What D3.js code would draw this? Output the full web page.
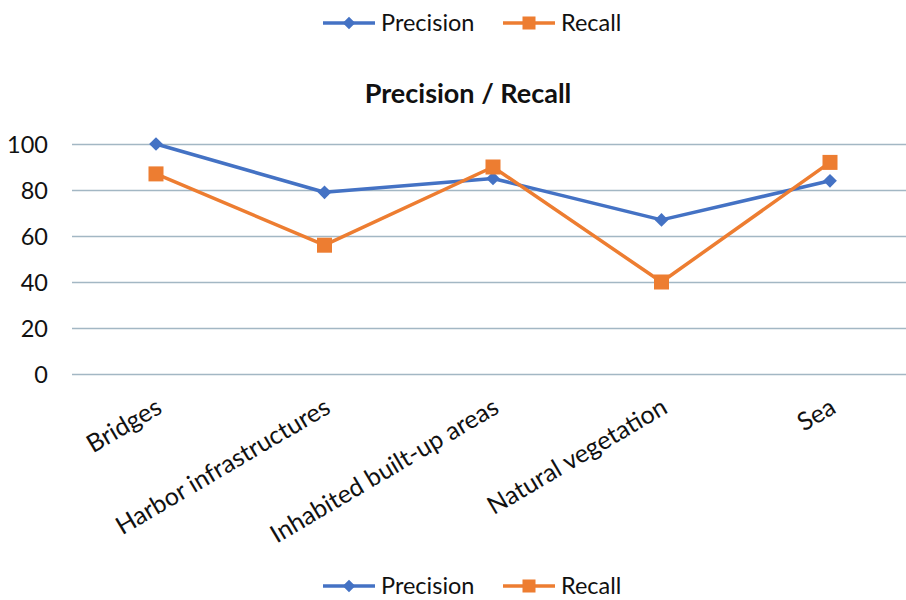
<!DOCTYPE html>
<html><head><meta charset="utf-8">
<script src="https://cdn.jsdelivr.net/npm/d3@7"></script>
<style>body{margin:0;background:#fff}svg{display:block}</style>
</head><body>
<svg id="c" width="906" height="600"></svg>
<script>
const categories = ["Bridges","Harbor infrastructures","Inhabited built-up areas","Natural vegetation","Sea"];
const precision = [100, 79, 85, 67, 84];
const recall = [87, 56, 90, 40, 92];
const yTicks = [0,20,40,60,80,100];
const seriesNames = ["Precision","Recall"];
const colors = ["#4472C4","#ED7D31"];

const svg = d3.select("#c");
const font = "Lato, 'Open Sans', sans-serif";
const x = d3.scalePoint().domain(categories).range([156, 830]);
const y = d3.scaleLinear().domain([0,100]).range([374, 144]);

// gridlines
const yAxis = d3.axisLeft(y).tickValues(yTicks).tickSize(-(906-72)).tickPadding(24);
const ga = svg.append("g").attr("transform","translate(72,0)").call(yAxis);
ga.select(".domain").remove();
ga.selectAll(".tick line").attr("stroke","#a3b7c4").attr("stroke-width",1.6);
ga.selectAll(".tick text").attr("fill","#111").style("font-family",font).style("font-size","23.5px").attr("dy","0.35em");

// x labels
const xa = svg.append("g").attr("transform","translate(0,374)").call(d3.axisBottom(x).tickSize(0));
xa.select(".domain").remove();
xa.selectAll(".tick text")
  .attr("fill","#111").style("font-family",font).style("font-size","25px")
  .attr("text-anchor","end").attr("x",0).attr("y",0).attr("dy",0)
  .attr("transform","translate(7,38) rotate(-30.5)");

const series = [precision, recall];
const line = d3.line().x((d,i)=>x(categories[i])).y(d=>y(d));
series.forEach((s,k)=>{
  svg.append("path").datum(s).attr("d",line).attr("fill","none")
    .attr("stroke",colors[k]).attr("stroke-width",3.5).attr("stroke-linejoin","round");
});
const diamond = d3.symbol().type(d3.symbolDiamond2).size(120);
svg.append("g").selectAll("path").data(precision).join("path")
  .attr("d",diamond).attr("fill",colors[0])
  .attr("transform",(d,i)=>`translate(${x(categories[i])},${y(d)})`);
svg.append("g").selectAll("rect").data(recall).join("rect")
  .attr("x",(d,i)=>x(categories[i])-7.5).attr("y",d=>y(d)-7.5)
  .attr("width",15).attr("height",15).attr("fill",colors[1]);

// title
svg.append("text").attr("x",468).attr("y",103).attr("text-anchor","middle")
  .style("font-family",font).style("font-size","27px").style("font-weight","bold")
  .attr("fill","#111").text("Precision / Recall");

// legends
function legend(yc){
  const g = svg.append("g");
  const items = [{lx:323, tx:381},{lx:503, tx:561}];
  items.forEach((it,k)=>{
    g.append("line").attr("x1",it.lx).attr("x2",it.lx+52).attr("y1",yc).attr("y2",yc)
      .attr("stroke",colors[k]).attr("stroke-width",3.5);
    if(k===0){
      g.append("path").attr("d",d3.symbol().type(d3.symbolDiamond2).size(100)()).attr("fill",colors[0])
        .attr("transform",`translate(${it.lx+26},${yc})`);
    } else {
      g.append("rect").attr("x",it.lx+26-6.5).attr("y",yc-6.5).attr("width",13).attr("height",13).attr("fill",colors[1]);
    }
    g.append("text").attr("x",it.tx).attr("y",yc).attr("dy","0.35em")
      .style("font-family",font).style("font-size","23.5px").attr("fill","#111").text(seriesNames[k]);
  });
}
legend(23);
legend(586);
</script>
</body></html>
